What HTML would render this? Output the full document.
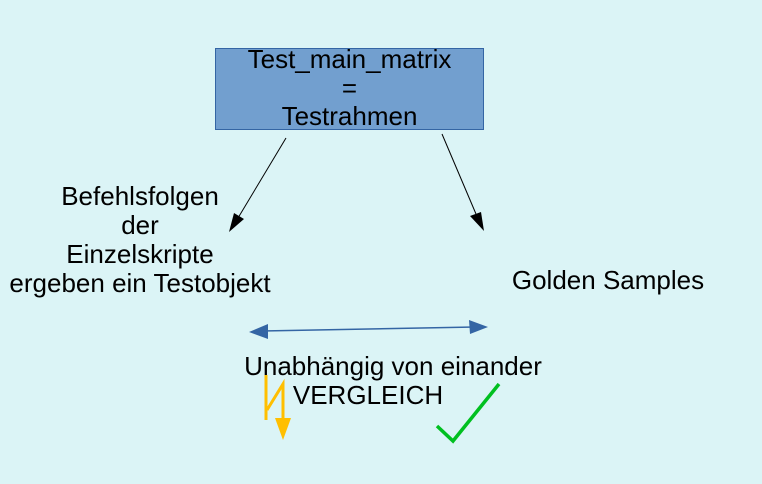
<!DOCTYPE html>
<html><head><meta charset="utf-8"><style>
html,body{margin:0;padding:0}
body{width:762px;height:484px;background:#dbf4f6;position:relative;overflow:hidden;font-family:"Liberation Sans",sans-serif;color:#000}
.t{position:absolute;text-align:center;font-size:26px;line-height:29px;white-space:nowrap}
</style></head><body>
<svg width="762" height="484" style="position:absolute;left:0;top:0">
<rect x="215.5" y="48.5" width="268" height="81" fill="#729fcf" stroke="#3465a4" stroke-width="1"/>
<line x1="286" y1="138" x2="238" y2="218" stroke="#000" stroke-width="1"/>
<polygon points="229,232 234,213 244,219" fill="#000"/>
<line x1="442" y1="134" x2="476" y2="214" stroke="#000" stroke-width="1"/>
<polygon points="484,231 470,216 481,212" fill="#000"/>
<line x1="262" y1="331" x2="475" y2="327" stroke="#3465a4" stroke-width="1.5"/>
<polygon points="249,332 268,324 268,339" fill="#3465a4"/>
<polygon points="488,327 469,320 470,334" fill="#3465a4"/>
<polyline points="266,375 266,420" stroke="#ffbf00" stroke-width="3" fill="none"/>
<polyline points="267,410 283,384 283,420" stroke="#ffbf00" stroke-width="3" fill="none"/>
<polygon points="275,418 291,418 283,440" fill="#ffbf00"/>
<polyline points="437,426 453,441 499,384" stroke="#00c020" stroke-width="3.5" fill="none"/>
</svg>
<div class="t" style="left:215px;top:45px;width:269px;line-height:28.5px">Test_main_matrix<br>=<br>Testrahmen</div>
<div class="t" style="left:0;top:182px;width:280px">Befehlsfolgen<br>der<br>Einzelskripte<br>ergeben ein Testobjekt</div>
<div class="t" style="left:500px;top:266px;width:216px">Golden Samples</div>
<div class="t" style="left:220px;top:352px;width:346px">Unabhängig von einander</div>
<div class="t" style="left:205px;top:381px;width:326px">VERGLEICH</div>
</body></html>
